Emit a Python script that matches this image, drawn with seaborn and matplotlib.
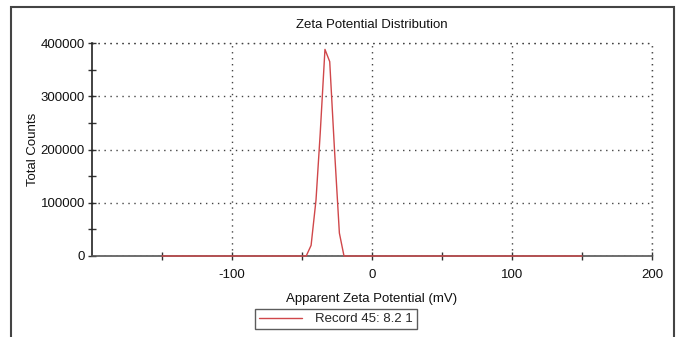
import matplotlib
matplotlib.use("Agg")
import matplotlib.pyplot as plt
from matplotlib.patches import Rectangle
from matplotlib.ticker import FixedLocator
import seaborn as sns
import pandas as pd

# Data
zeta_mv = [-150, -47.0, -43.5, -40.0, -37.0, -33.6, -30.2, -26.8, -23.3, -20.0, 150]
total_counts = [0, 0, 20000, 105000, 230000, 388000, 365000, 200000, 43000, 0, 0]
series_label = "Record 45: 8.2 1"
x_ticks = [-100, 0, 100, 200]
x_tick_labels = ["-100", "0", "100", "200"]
x_minor = [-150, -50, 50, 150]
y_ticks = [0, 100000, 200000, 300000, 400000]
y_tick_labels = ["0", "100000", "200000", "300000", "400000"]
y_minor = [50000, 150000, 250000, 350000]

df = pd.DataFrame({"Apparent Zeta Potential (mV)": zeta_mv,
                   "Total Counts": total_counts,
                   "series": series_label})

sns.set_style("white")
plt.rcParams["font.family"] = ["Liberation Sans", "DejaVu Sans"]
plt.rcParams["font.size"] = 9.5

fig = plt.figure(figsize=(6.79, 3.37), dpi=100)
ax = fig.add_axes([92/679, 1-256/337, 560/679, 213/337])

sns.lineplot(data=df, x="Apparent Zeta Potential (mV)", y="Total Counts",
             hue="series", palette=["#d0474a"], linewidth=1.0, ax=ax,
             zorder=5, clip_on=False)

ax.set_xlim(-200, 200)
ax.set_ylim(0, 400000)

ax.xaxis.set_major_locator(FixedLocator(x_ticks))
ax.set_xticklabels(x_tick_labels)
ax.xaxis.set_minor_locator(FixedLocator(x_minor))
ax.yaxis.set_major_locator(FixedLocator(y_ticks))
ax.set_yticklabels(y_tick_labels)
ax.yaxis.set_minor_locator(FixedLocator(y_minor))

ax.tick_params(axis="both", which="both", direction="inout", length=6,
               width=1.0, color="#333333", labelsize=9.5, labelcolor="#111111")
ax.tick_params(axis="x", which="both", bottom=True, pad=6)
ax.tick_params(axis="y", which="both", left=True, pad=2)

ax.grid(True, which="major", color="#444444", linestyle=(0, (1, 3.3)),
        linewidth=1.0)
ax.set_axisbelow(True)

for s in ["top", "right"]:
    ax.spines[s].set_visible(False)
ax.spines["left"].set_color("#222222")
ax.spines["left"].set_linewidth(1.2)
ax.spines["bottom"].set_color("#555555")
ax.spines["bottom"].set_linewidth(1.2)

# dotted top / right edges (grid at 400000 and 200)
ax.axhline(400000, color="#444444", linestyle=(0, (1, 3.3)), linewidth=1.0, clip_on=False)
ax.axvline(200, color="#444444", linestyle=(0, (1, 3.3)), linewidth=1.0, clip_on=False)

ax.set_title("Zeta Potential Distribution", fontsize=9.5, pad=11, color="#111111")
ax.set_xlabel("Apparent Zeta Potential (mV)", fontsize=9.5, labelpad=9, color="#111111")
ax.set_ylabel("Total Counts", fontsize=9.5, labelpad=1, color="#111111")

leg = ax.legend(loc="upper center", bbox_to_anchor=(244/560, -0.25),
                frameon=True, fancybox=False, fontsize=9.5, handlelength=3.2,
                borderpad=0.3, handletextpad=1.0, borderaxespad=0)
leg.get_frame().set_edgecolor("#333333")
leg.get_frame().set_linewidth(1.0)

# outer frame
fig.patches.append(Rectangle((11/679, -0.05), 663/679, 1.05 - 7/337,
                             transform=fig.transFigure, fill=False,
                             edgecolor="#444444", linewidth=1.5))

fig.savefig("out.png", dpi=100)
